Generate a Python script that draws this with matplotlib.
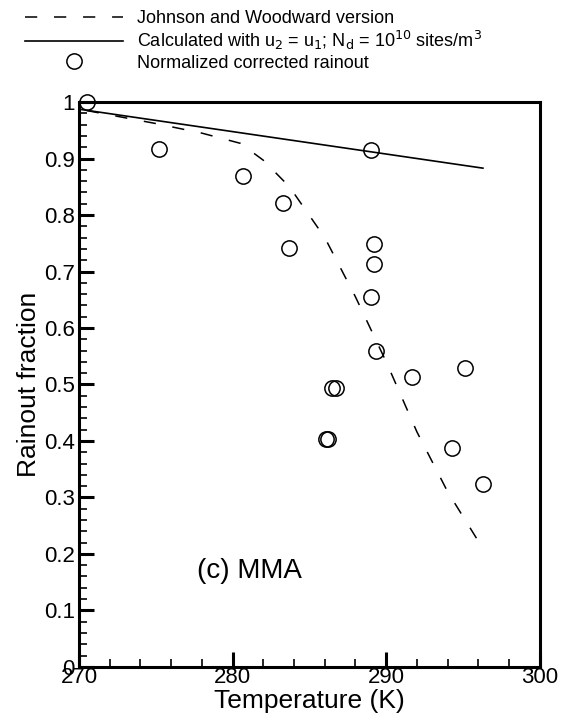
import matplotlib.pyplot as plt
from matplotlib.ticker import MultipleLocator, FormatStrFormatter

plt.rcParams['font.family'] = ['Liberation Sans', 'DejaVu Sans']

# measured points (normalized corrected rainout)
temp_obs = [270.5, 275.2, 280.7, 283.3, 283.7, 289.0, 289.2, 289.2, 289.0, 289.35,
            286.5, 286.7, 286.1, 286.2, 291.7, 295.1, 294.3, 296.3]
rain_obs = [1.0, 0.917, 0.869, 0.821, 0.742, 0.915, 0.748, 0.713, 0.654, 0.559,
            0.493, 0.493, 0.403, 0.404, 0.514, 0.529, 0.388, 0.323]

# Johnson and Woodward version (dashed)
temp_jw = [270.5, 275.0, 278.0, 280.5, 282.0, 283.7, 286.0, 288.0, 290.0, 292.0, 294.0, 296.1]
rain_jw = [0.985, 0.962, 0.945, 0.927, 0.897, 0.850, 0.760, 0.655, 0.540, 0.416, 0.310, 0.218]

# calculated with u2 = u1 (solid)
temp_calc = [270.1, 296.3]
rain_calc = [0.987, 0.883]

fig = plt.figure(figsize=(5.73, 7.24), dpi=100)
ax = fig.add_axes([0.138, 0.079, 0.804, 0.780])

ax.plot(temp_jw, rain_jw, color='black', lw=1.1, ls=(0, (8, 11)),
        label='Johnson and Woodward version')
ax.plot(temp_calc, rain_calc, color='black', lw=1.2,
        label=r'Calculated with u$_2$ = u$_1$; N$_\mathrm{d}$ = 10$^{10}$ sites/m$^3$')
ax.plot(temp_obs, rain_obs, ls='none', marker='o', ms=11, mfc='none', mec='black',
        mew=1.1, clip_on=False, label='Normalized corrected rainout')

ax.set_xlim(270, 300)
ax.set_ylim(0, 1)
ax.xaxis.set_major_locator(MultipleLocator(10))
ax.xaxis.set_minor_locator(MultipleLocator(2))
ax.yaxis.set_major_locator(MultipleLocator(0.1))
ax.yaxis.set_minor_locator(MultipleLocator(0.02))
ax.yaxis.set_major_formatter(FormatStrFormatter('%g'))
ax.tick_params(which='major', direction='in', length=11, width=2.2, labelsize=16,
               top=False, right=False)
ax.tick_params(axis='x', which='major', pad=0)
ax.tick_params(axis='y', which='major', pad=3)
ax.tick_params(which='minor', direction='in', length=6, width=1.2, top=False, right=False)
for s in ax.spines.values():
    s.set_linewidth(2.2)

ax.set_xlabel('Temperature (K)', fontsize=19, labelpad=1)
ax.set_ylabel('Rainout fraction', fontsize=19, labelpad=2)
ax.text(277.7, 0.157, '(c) MMA', fontsize=20, va='baseline')

handles, labels = ax.get_legend_handles_labels()
fig.legend(handles, labels, loc='upper left', bbox_to_anchor=(0.044, 0.986),
           frameon=False, fontsize=13, handlelength=5.4, handletextpad=0.8,
           labelspacing=0.12, borderpad=0, borderaxespad=0)

fig.savefig('out.png', dpi=100)
